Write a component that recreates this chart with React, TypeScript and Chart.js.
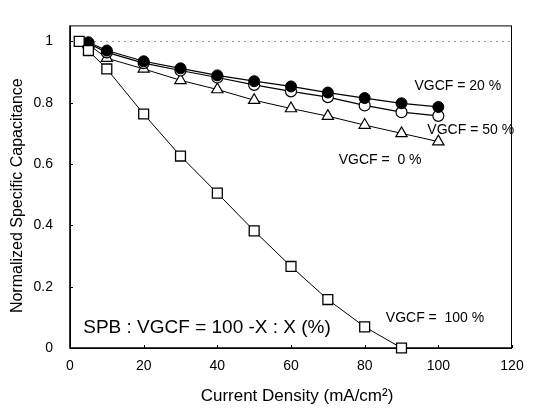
import React, { useEffect, useRef } from "react";
import { Chart, registerables } from "chart.js";

Chart.register(...registerables);

// ---- data ----
const densitySquares = [2.5, 5, 10, 20, 30, 40, 50, 60, 70, 80, 90];
const densityOthers = [5, 10, 20, 30, 40, 50, 60, 70, 80, 90, 100];
const vgcf100 = [1.0, 0.97, 0.91, 0.763, 0.626, 0.505, 0.382, 0.266, 0.158, 0.069, 0.0];
const vgcf20 = [0.997, 0.97, 0.935, 0.912, 0.889, 0.87, 0.853, 0.833, 0.815, 0.798, 0.786];
const vgcf50 = [0.993, 0.964, 0.929, 0.905, 0.882, 0.858, 0.837, 0.818, 0.791, 0.769, 0.757];
const vgcf0 = [0.99, 0.945, 0.91, 0.873, 0.843, 0.808, 0.781, 0.756, 0.727, 0.7, 0.673];
const xTicks = [0, 20, 40, 60, 80, 100, 120];
const yTicks = [0, 0.2, 0.4, 0.6, 0.8, 1];
const yTickLabels = ["0", "0.2", "0.4", "0.6", "0.8", "1"];
const labelTexts = ["VGCF = 20 %", "VGCF = 50 %", "VGCF =  0 %", "VGCF =  100 %", "SPB : VGCF = 100 -X : X (%)"];
const labelAnchorX = [105.3, 108.8, 84.2, 99.1, 37.2];
const labelAnchorY = [0.855, 0.709, 0.611, 0.096, 0.065];

const FONT = "'Liberation Sans', Arial, Helvetica, sans-serif";

const pts = (xs: number[], ys: number[]) => xs.map((x, i) => ({ x, y: ys[i] }));

const framePlugin = {
  id: "frame",
  beforeDatasetsDraw(chart: any) {
    const { ctx, chartArea: a, scales } = chart;
    const xs = scales.x;
    const ys = scales.y;
    ctx.save();
    // dotted reference line at 1
    ctx.strokeStyle = "#9a9a9a";
    ctx.lineWidth = 1;
    ctx.setLineDash([2, 4]);
    ctx.beginPath();
    const y1 = Math.round(ys.getPixelForValue(1)) + 0.5;
    ctx.moveTo(a.left, y1);
    ctx.lineTo(a.right, y1);
    ctx.stroke();
    ctx.setLineDash([]);
    // frame
    ctx.strokeStyle = "#000";
    ctx.lineWidth = 1;
    ctx.strokeRect(a.left + 0.5, a.top + 0.5, a.right - a.left - 1, a.bottom - a.top);
    ctx.lineWidth = 1.6;
    ctx.beginPath();
    ctx.moveTo(a.left, a.top);
    ctx.lineTo(a.left, a.bottom);
    ctx.lineTo(a.right, a.bottom);
    ctx.stroke();
    // inward ticks
    ctx.lineWidth = 1;
    ctx.beginPath();
    xTicks.forEach((v) => {
      const px = Math.round(xs.getPixelForValue(v)) + 0.5;
      ctx.moveTo(px, a.bottom);
      ctx.lineTo(px, a.bottom - 3);
    });
    yTicks.forEach((v) => {
      const py = Math.round(ys.getPixelForValue(v)) + 0.5;
      ctx.moveTo(a.left, py);
      ctx.lineTo(a.left + 3, py);
    });
    ctx.stroke();
    ctx.restore();
  },
  afterDraw(chart: any) {
    const { ctx, chartArea: a, scales } = chart;
    ctx.save();
    ctx.fillStyle = "#000";
    ctx.textBaseline = "middle";
    ctx.textAlign = "center";
    labelTexts.forEach((t, i) => {
      ctx.font = i === 4 ? `19px ${FONT}` : `14px ${FONT}`;
      ctx.fillText(t, scales.x.getPixelForValue(labelAnchorX[i]), scales.y.getPixelForValue(labelAnchorY[i]));
    });
    // axis titles
    ctx.font = `17px ${FONT}`;
    ctx.fillText("Current Density (mA/cm²)", (a.left + a.right) / 2 + 6, 396);
    ctx.font = `16px ${FONT}`;
    ctx.translate(18, (a.top + a.bottom) / 2 + 9);
    ctx.rotate(-Math.PI / 2);
    ctx.fillText("Normalized Specific Capacitance", 0, 0);
    ctx.restore();
  },
};

export default function App() {
  const ref = useRef<HTMLCanvasElement | null>(null);
  useEffect(() => {
    if (!ref.current) return;
    Chart.defaults.font.family = FONT;
    const chart = new Chart(ref.current, {
      type: "line",
      data: {
        datasets: [
          {
            label: "VGCF = 100 %",
            data: pts(densitySquares, vgcf100),
            borderColor: "#000",
            borderWidth: 1,
            pointStyle: "rect",
            pointRadius: 7,
            pointBackgroundColor: "#fff",
            pointBorderColor: "#000",
            pointBorderWidth: 1.3,
            clip: false,
          },
          {
            label: "VGCF = 20 %",
            data: pts(densityOthers, vgcf20),
            borderColor: "#000",
            borderWidth: 1.2,
            pointStyle: "circle",
            pointRadius: 5.5,
            pointBackgroundColor: "#000",
            pointBorderColor: "#000",
            pointBorderWidth: 1,
            clip: false,
          },
          {
            label: "VGCF = 50 %",
            data: pts(densityOthers, vgcf50),
            borderColor: "#000",
            borderWidth: 1.2,
            pointStyle: "circle",
            pointRadius: 5.5,
            pointBackgroundColor: "#fff",
            pointBorderColor: "#000",
            pointBorderWidth: 1.2,
            clip: false,
          },
          {
            label: "VGCF = 0 %",
            data: pts(densityOthers, vgcf0),
            borderColor: "#000",
            borderWidth: 1,
            pointStyle: "triangle",
            pointRadius: 6.5,
            pointBackgroundColor: "#fff",
            pointBorderColor: "#000",
            pointBorderWidth: 1.2,
            clip: false,
          },
        ],
      },
      options: {
        animation: false,
        responsive: false,
        layout: { padding: { top: 7, right: 22, bottom: 0, left: 0 } },
        plugins: { legend: { display: false }, tooltip: { enabled: false } },
        elements: { line: { tension: 0 } },
        scales: {
          x: {
            type: "linear",
            min: 0,
            max: 120,
            grid: { display: false, drawTicks: false },
            border: { display: false },
            ticks: {
              stepSize: 20,
              padding: 10,
              color: "#000",
              font: { size: 14, family: FONT },
              maxRotation: 0,
            },
            afterFit: (s: any) => {
              s.height = 64;
            },
          },
          y: {
            type: "linear",
            min: 0,
            max: 1.052,
            grid: { display: false, drawTicks: false },
            border: { display: false },
            afterBuildTicks: (s: any) => {
              s.ticks = yTicks.map((v) => ({ value: v }));
            },
            ticks: {
              padding: 17,
              color: "#000",
              font: { size: 14, family: FONT },
              callback: (v: any) => {
                const i = yTicks.indexOf(Number(v));
                return i >= 0 ? yTickLabels[i] : "";
              },
            },
            afterFit: (s: any) => {
              s.width = 70;
            },
          },
        },
      },
      plugins: [framePlugin],
    } as any);
    return () => chart.destroy();
  }, []);
  return (
    <div style={{ position: "absolute", left: 0, top: 0, width: 534, height: 412, background: "#fff" }}>
      <canvas ref={ref} width={534} height={412} />
    </div>
  );
}
